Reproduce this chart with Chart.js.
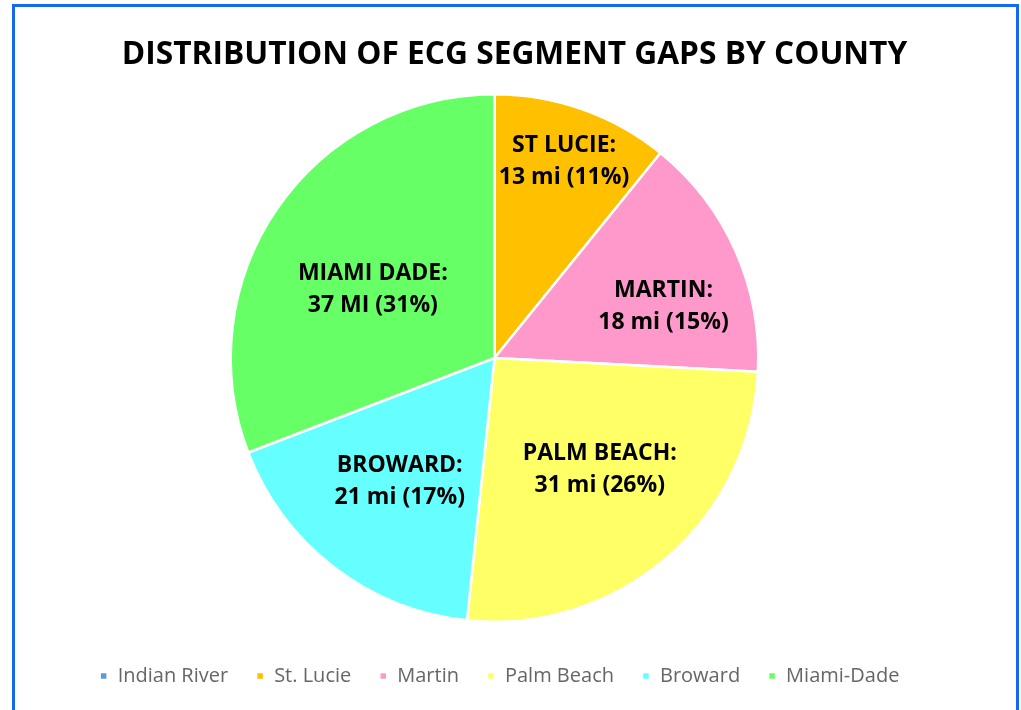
<!DOCTYPE html>
<html>
<head>
<meta charset="utf-8">
<script src="https://cdn.jsdelivr.net/npm/chart.js@4.4.1/dist/chart.umd.min.js"></script>
<style>
    html, body { margin: 0; padding: 0; background: #fff; overflow: hidden; }
    #wrap { position: relative; width: 1021px; height: 710px; }
    #frame {
        position: absolute; left: 12px; top: 4px; width: 1001px; height: 720px;
        border: 3px solid #1469f2; box-sizing: content-box; pointer-events: none;
    }
    canvas { position: absolute; left: 0; top: 0; }
</style>
</head>
<body>
<div id="wrap">
    <canvas id="pie-chart" width="1021" height="710"></canvas>
    <div id="frame"></div>
</div>
<script>
const counties = ['Indian River', 'St. Lucie', 'Martin', 'Palm Beach', 'Broward', 'Miami-Dade'];
const gapMiles = [0, 13, 18, 31, 21, 37];
const percents = [0, 11, 15, 26, 17, 31];
const labelNames = ['INDIAN RIVER', 'ST LUCIE', 'MARTIN', 'PALM BEACH', 'BROWARD', 'MIAMI DADE'];
const unitText = ['mi', 'mi', 'mi', 'mi', 'mi', 'MI'];
const colors = ['#5b9bd5', '#ffc000', '#ff99cc', '#ffff66', '#66ffff', '#66ff66'];

// Excel "best fit" label spots: fraction of radius from centre
const labelRadius = [0.6, 0.79, 0.67, 0.58, 0.59, 0.53];
const labelAngleShift = [0, 0, 7, -3, 0, -5];

// nudge the plot area, title and legend to sit where Excel put them
const plotShift = {
    id: 'plotShift',
    afterLayout(chart) {
        const a = chart.chartArea;
        a.left -= 16;
        a.right -= 16;
        a.top = 93;
        a.bottom = 623;
        a.height = a.bottom - a.top;
        a.width = a.right - a.left;
        chart.legend.left -= 11;
        chart.legend.right -= 11;
        chart.titleBlock.left += 4;
        chart.titleBlock.right += 4;
    }
};

const sliceLabels = {
    id: 'sliceLabels',
    afterDatasetsDraw(chart) {
        const ctx = chart.ctx;
        const meta = chart.getDatasetMeta(0);
        ctx.save();
        ctx.font = 'bold 23px "Open Sans"';
        ctx.fillStyle = '#000';
        ctx.textAlign = 'center';
        ctx.textBaseline = 'middle';
        meta.data.forEach((arc, i) => {
            if (!gapMiles[i]) return;
            const p = arc.getProps(['x', 'y', 'startAngle', 'endAngle', 'outerRadius']);
            const mid = (p.startAngle + p.endAngle) / 2 + labelAngleShift[i] * Math.PI / 180;
            const r = p.outerRadius * labelRadius[i];
            const x = p.x + Math.cos(mid) * r;
            const y = p.y + Math.sin(mid) * r;
            ctx.fillText(labelNames[i] + ':', x, y - 16);
            ctx.fillText(gapMiles[i] + ' ' + unitText[i] + ' (' + percents[i] + '%)', x, y + 16);
        });
        ctx.restore();
    }
};

document.addEventListener('DOMContentLoaded', () => {
    const ctx = document.getElementById('pie-chart').getContext('2d');
    new Chart(ctx, {
        type: 'pie',
        data: {
            labels: counties,
            datasets: [{
                data: gapMiles,
                backgroundColor: colors,
                borderColor: '#ffffff',
                borderWidth: 2.5
            }]
        },
        options: {
            responsive: false,
            animation: false,
            layout: { padding: { bottom: 14 } },
            plugins: {
                title: {
                    display: true,
                    text: 'DISTRIBUTION OF ECG SEGMENT GAPS BY COUNTY',
                    color: '#000',
                    font: { family: '"Open Sans"', size: 31.7, weight: 'bold' },
                    padding: { top: 36, bottom: 22 }
                },
                legend: {
                    position: 'bottom',
                    labels: {
                        boxWidth: 8,
                        boxHeight: 8,
                        padding: 28,
                        color: '#666666',
                        font: { family: '"Open Sans"', size: 20 }
                    }
                },
                tooltip: { enabled: false }
            }
        },
        plugins: [plotShift, sliceLabels]
    });
});
</script>
</body>
</html>
